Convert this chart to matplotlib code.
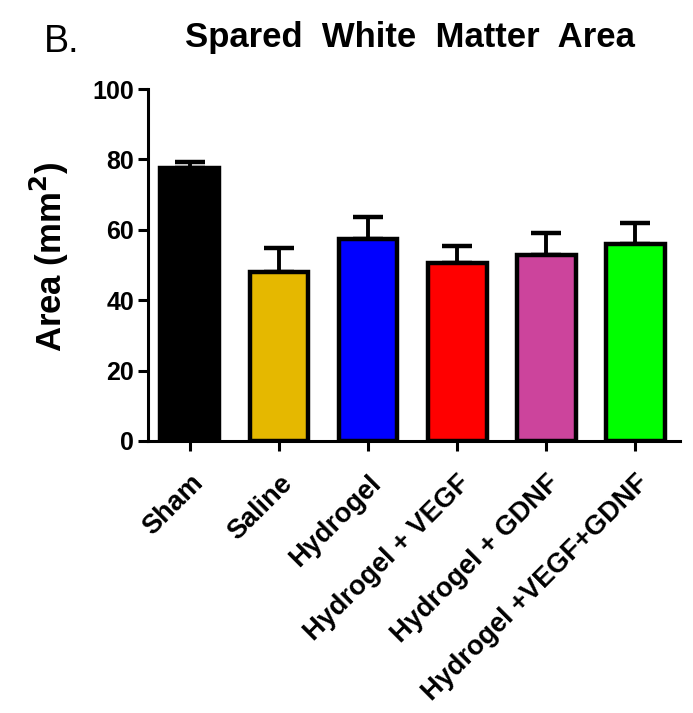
import matplotlib.pyplot as plt
import matplotlib.transforms as mtransforms

plt.rcParams['font.family'] = ['Liberation Sans', 'DejaVu Sans']

# 数据
groups = ['Sham', 'Saline', 'Hydrogel', 'Hydrogel + VEGF',
          'Hydrogel + GDNF', 'Hydrogel +VEGF+GDNF']
area_mean = [77.5, 48, 57.5, 50.5, 53, 56]
area_sem = [1.8, 6.8, 6.2, 5.0, 6.0, 6.0]
bar_colors = ['#000000', '#E5B800', '#0000FF', '#FF0000', '#CC449C', '#00FF00']

fig = plt.figure(figsize=(6.93, 7.13), dpi=100)
ax = fig.add_axes([0.2136, 0.3815, 0.7674, 0.4935])

x = range(len(groups))
ax.bar(x, area_mean, width=0.66, color=bar_colors, edgecolor='black',
       linewidth=3.2, zorder=2)
ax.errorbar(x, area_mean, yerr=[[0] * len(groups), area_sem], fmt='none',
            ecolor='black', elinewidth=2.8, capsize=11, capthick=3.2, zorder=1)

ax.set_xlim(-0.47, 5.5)
ax.set_ylim(0, 100)
ax.set_yticks([0, 20, 40, 60, 80, 100])
ax.set_xticks(list(x))
ax.set_xticklabels(groups, rotation=45, ha='right', rotation_mode='anchor',
                   fontsize=19.5, fontweight='bold')
# 标签稍微左移
shift = mtransforms.ScaledTranslation(-8 / 100, 0, fig.dpi_scale_trans)
for lbl in ax.get_xticklabels():
    lbl.set_transform(lbl.get_transform() + shift)
for lbl in ax.get_yticklabels():
    lbl.set_fontsize(18)
    lbl.set_fontweight('bold')

for side in ['top', 'right']:
    ax.spines[side].set_visible(False)
for side in ['left', 'bottom']:
    ax.spines[side].set_linewidth(2.2)
ax.tick_params(axis='y', width=2.2, length=7, pad=3)
ax.tick_params(axis='x', width=2.2, length=7, pad=14)

ax.set_ylabel('Area (mm$^\\mathbf{2}$)', fontsize=25, fontweight='bold')
ax.yaxis.set_label_coords(-0.145, 0.523)

fig.text(0.592, 0.934, 'Spared  White  Matter  Area', ha='center', va='baseline',
         fontsize=25, fontweight='bold')
fig.text(0.063, 0.927, 'B.', ha='left', va='baseline', fontsize=27)

fig.savefig('out.png', dpi=100)
